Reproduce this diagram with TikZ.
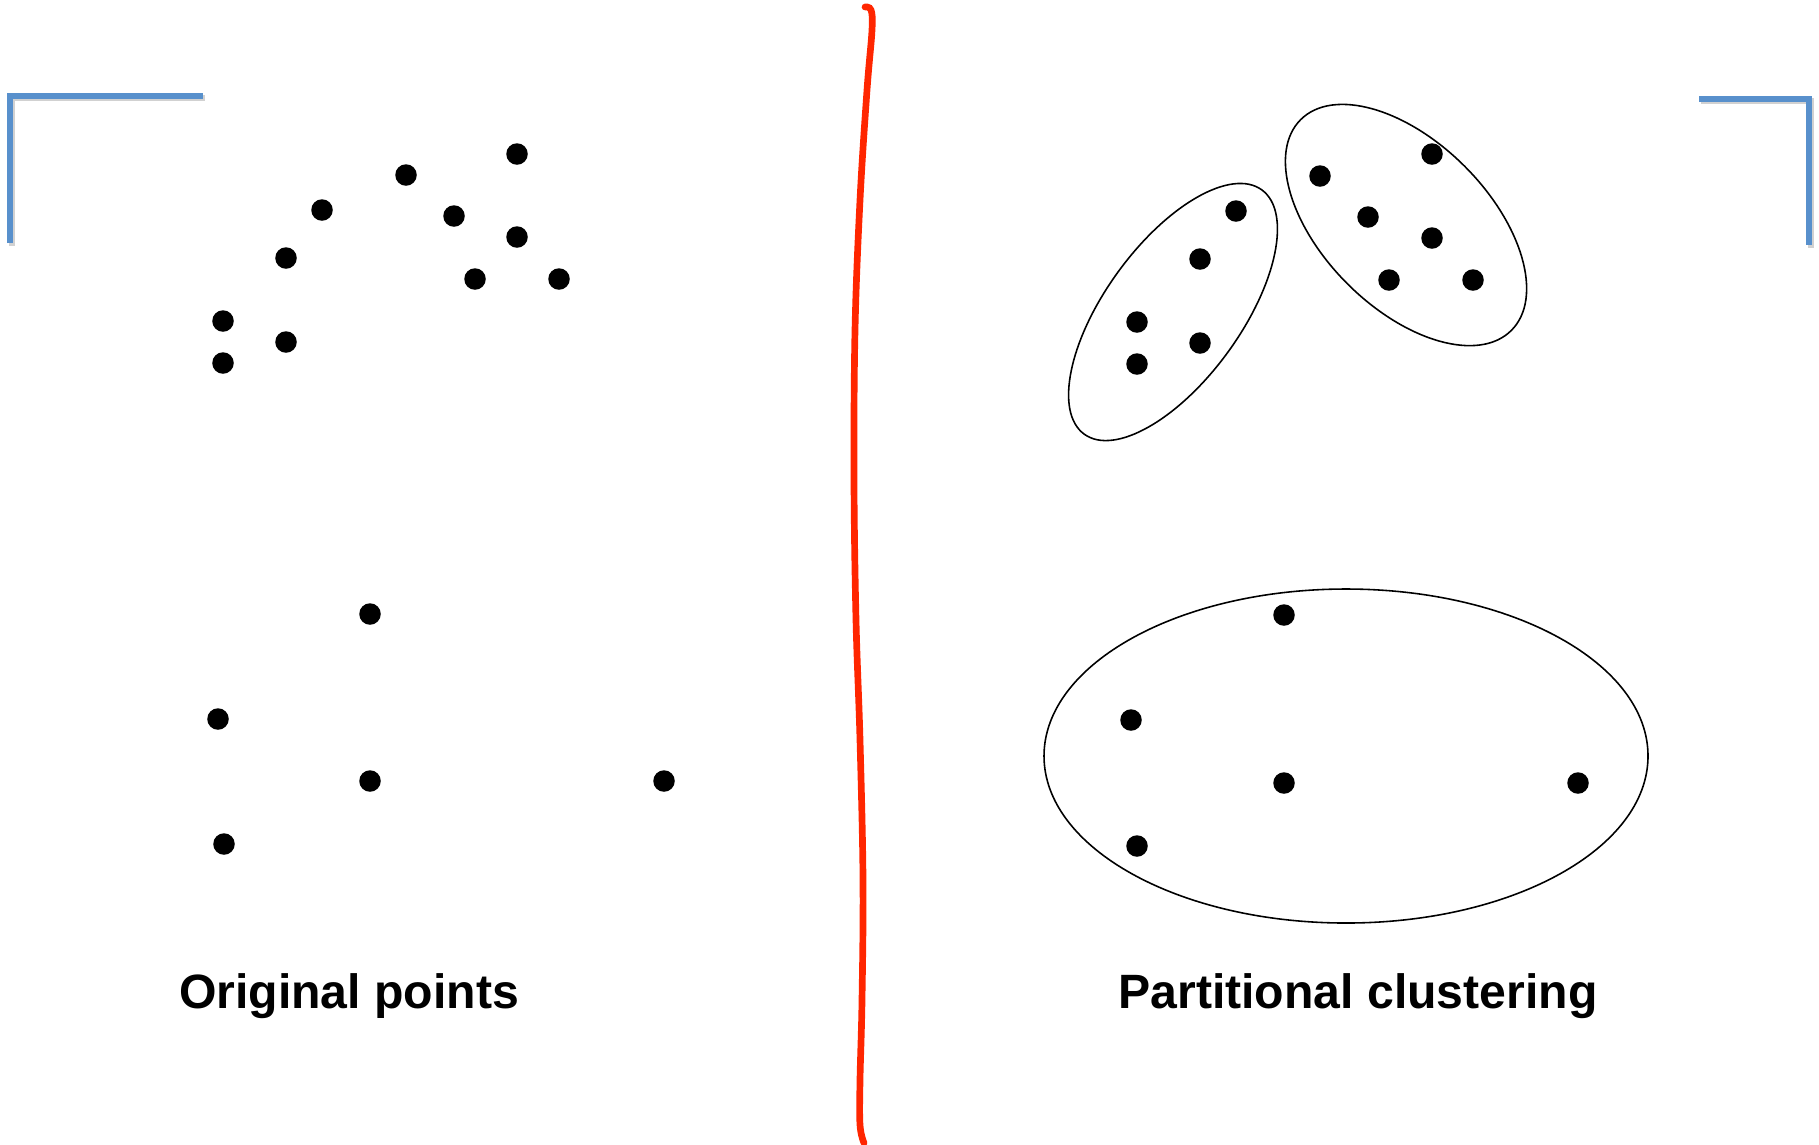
\documentclass[tikz,border=0pt]{standalone}
\usepackage{fontspec}
\setmainfont{Liberation Sans}
\definecolor{bracketblue}{RGB}{88,144,204}
\definecolor{divred}{RGB}{255,38,0}
\begin{document}
\begin{tikzpicture}[x=0.01cm,y=-0.01cm,
  rdot/.style={circle,fill=black,draw=none,inner sep=0pt,minimum size=0.215cm},
  bracket/.style={draw=bracketblue,line width=1.45pt,line cap=butt},
  bshadow/.style={draw=black,opacity=0.18,line width=1.6pt},
  cluster/.style={draw=black,line width=0.45pt},
  lbl/.style={font=\fontsize{13.7}{16}\selectfont\bfseries,inner sep=0pt,anchor=base}]
\useasboundingbox (0,0) rectangle (1819,1144);
\fill[white] (0,0) rectangle (1819,1144);

% brackets
\draw[bshadow] (12,246) -- (12,98) -- (205,98);
\draw[bracket] (10,243) -- (10,96) -- (203,96);
\draw[bshadow] (1701,101) -- (1811,101) -- (1811,248);
\draw[bracket] (1699,99) -- (1809,99) -- (1809,245);

% red divider
\draw[divred,line width=1.9pt,line cap=round] plot[smooth,tension=0.6] coordinates
 {(865,7) (871,10) (872,30) (867,90) (860,200) (855,330) (854,480) (856,620) (860,740) (863,880) (862,1000) (860,1080) (860,1125) (864,1143)};

% left: original points
\node[rdot] (a1) at (517,154) {};
\node[rdot] (a2) at (406,175) {};
\node[rdot] (a3) at (322,210) {};
\node[rdot] (a4) at (454,216) {};
\node[rdot] (a5) at (517,237) {};
\node[rdot] (a6) at (286,258) {};
\node[rdot] (a7) at (475,279) {};
\node[rdot] (a8) at (559,279) {};
\node[rdot] (a9) at (223,321) {};
\node[rdot] (a10) at (286,342) {};
\node[rdot] (a11) at (223,363) {};
\node[rdot] (b1) at (370,614) {};
\node[rdot] (b2) at (218,719) {};
\node[rdot] (b3) at (370,781) {};
\node[rdot] (b4) at (664,781) {};
\node[rdot] (b5) at (224,844) {};

% right: clustered points
\node[rdot] (c1) at (1432,154) {};
\node[rdot] (c2) at (1320,176) {};
\node[rdot] (c3) at (1236,211) {};
\node[rdot] (c4) at (1368,217) {};
\node[rdot] (c5) at (1432,238) {};
\node[rdot] (c6) at (1200,259) {};
\node[rdot] (c7) at (1389,280) {};
\node[rdot] (c8) at (1473,280) {};
\node[rdot] (c9) at (1137,322) {};
\node[rdot] (c10) at (1200,343) {};
\node[rdot] (c11) at (1137,364) {};
\node[rdot] (d1) at (1284,615) {};
\node[rdot] (d2) at (1131,720) {};
\node[rdot] (d3) at (1284,783) {};
\node[rdot] (d4) at (1578,783) {};
\node[rdot] (d5) at (1137,846) {};

% cluster outlines
\draw[cluster,rotate around={54:(1173,312)}] (1173,312) ellipse [x radius=151, y radius=68];
\draw[cluster,rotate around={-45:(1406,225)}] (1406,225) ellipse [x radius=149, y radius=83];
\draw[cluster] (1346,756) ellipse [x radius=302, y radius=167];

% labels
\node[lbl] (t1) at (349,1008) {Original points};
\node[lbl] (t2) at (1358,1008) {Partitional clustering};
\end{tikzpicture}
\end{document}
